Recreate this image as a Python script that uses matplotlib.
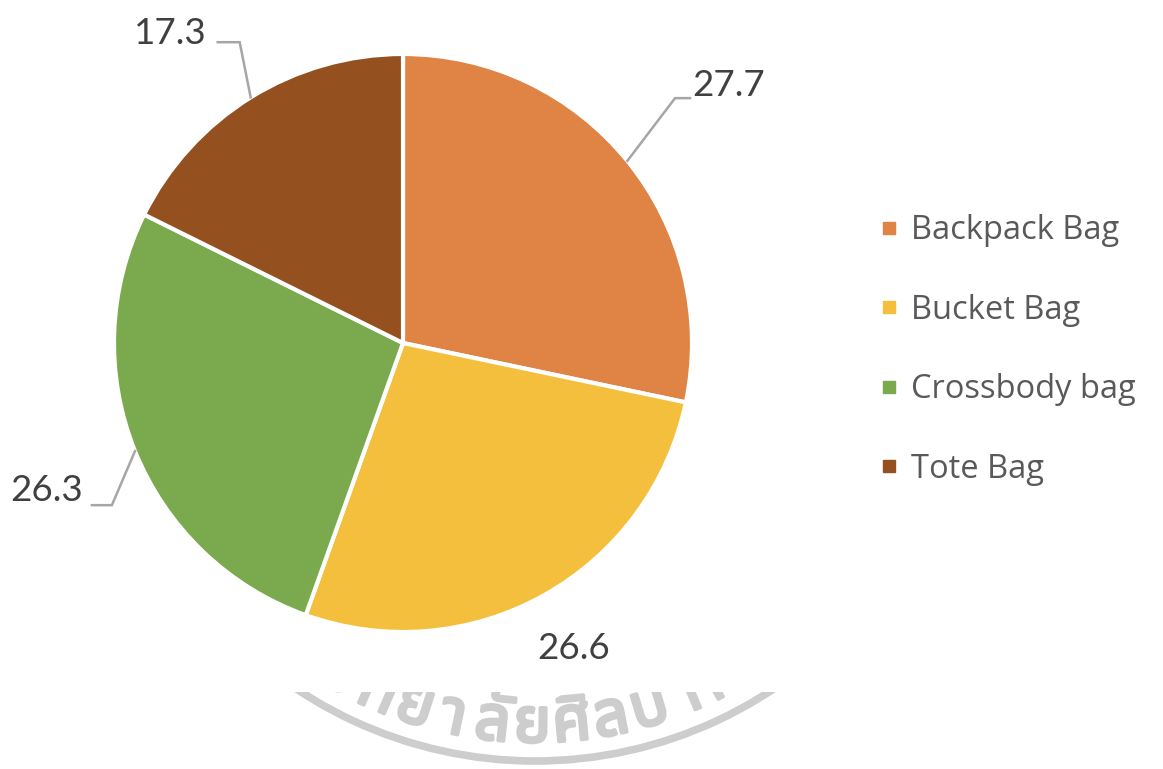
import numpy as np
import matplotlib
matplotlib.use("Agg")
import matplotlib.pyplot as plt
import matplotlib.patheffects as pe
from matplotlib.lines import Line2D
from matplotlib.patches import Arc, Rectangle

categories = ["Backpack Bag", "Bucket Bag", "Crossbody bag", "Tote Bag"]
values = [27.7, 26.6, 26.3, 17.3]
colors = ["#DF8444", "#F3BF3D", "#7BAA4E", "#94501F"]
value_labels = ["27.7", "26.6", "26.3", "17.3"]

# watermark seal text, split into glyph clusters
seal_clusters = ["ม", "ห", "า", "วิ", "ท", "ย", "า", "ลั", "ย", "ศิ", "ล", "ป", "า", "ก", "ร"]

W, H = 1163, 769
R_PX = 289.0
CX, CY = 403.0, 343.0


def px(x, y):
    """pixel position -> data coordinates (pie radius = 1)"""
    return (x - CX) / R_PX, (CY - y) / R_PX


plt.rcParams["font.family"] = ["Lato", "DejaVu Sans"]
fig = plt.figure(figsize=(W / 100, H / 100), dpi=100)
ax = fig.add_axes([0, 0, 1, 1])

wedges, _ = ax.pie(values, colors=colors, startangle=90, counterclock=False,
                   radius=1.0, wedgeprops=dict(edgecolor="white", linewidth=3))
ax.set_xlim(-CX / R_PX, (W - CX) / R_PX)
ax.set_ylim(-(H - CY) / R_PX, CY / R_PX)
ax.set_aspect("equal")
ax.axis("off")

text_color = "#404040"
line_color = "#A6A6A6"
fs = 26.5

mids = [np.deg2rad((w.theta1 + w.theta2) / 2) for w in wedges]

# leader-line layout: elbow offset, horizontal run, text gap and lift
layout = {
    0: dict(elbow=(0.165, 0.217), run=0.052, ha="left", gap=0.008, lift=0.042),
    2: dict(elbow=(-0.080, -0.187), run=-0.069, ha="right", gap=-0.032, lift=0.050),
    3: dict(elbow=(-0.038, 0.191), run=-0.076, ha="right", gap=-0.040, lift=0.030),
}
for i, m in enumerate(mids):
    ex, ey = np.cos(m), np.sin(m)
    if i in layout:
        L = layout[i]
        bx, by = ex + L["elbow"][0], ey + L["elbow"][1]
        tx = bx + L["run"]
        ax.plot([ex, bx, tx], [ey, by, by], color=line_color, lw=1.8,
                solid_joinstyle="miter")
        ax.text(tx + L["gap"], by + L["lift"], value_labels[i], ha=L["ha"],
                va="center", fontsize=fs, color=text_color)
    else:
        ax.text(1.21 * ex, 1.21 * ey, value_labels[i], ha="center",
                va="center", fontsize=fs, color=text_color)

handles = [Line2D([], [], marker="s", linestyle="none", markersize=8,
                  markerfacecolor=c, markeredgecolor=c) for c in colors]
fig.legend(handles, categories, loc="center left",
           bbox_to_anchor=(852 / W, 1 - 350 / H), frameon=False,
           prop=dict(family="Open Sans", size=23.5), labelcolor="#595959",
           handlelength=0.45, handletextpad=0.45, labelspacing=1.42)

# seal watermark along the bottom, visible only below the chart area
clip = Rectangle(px(0, H), W / R_PX, (H - 692) / R_PX, transform=ax.transData,
                 facecolor="none", edgecolor="none")
ax.add_patch(clip)
seal_c = px(535, 330)
seal_r = 431 / R_PX
seal_col = "#CDCDCD"
arc = Arc(seal_c, 2 * seal_r, 2 * seal_r, theta1=220, theta2=320,
          color=seal_col, lw=5.5, zorder=0)
ax.add_patch(arc)
arc.set_clip_path(clip)

base_r = 412 / R_PX
step = 5.75
base_idx = 8
for k, ch in enumerate(seal_clusters):
    ang = -90.4 + (k - base_idx) * step
    a = np.deg2rad(ang)
    t = ax.text(seal_c[0] + base_r * np.cos(a), seal_c[1] + base_r * np.sin(a), ch,
                ha="center", va="baseline", rotation=ang + 90,
                rotation_mode="anchor", fontsize=45, fontweight="bold",
                color=seal_col, zorder=0, clip_on=True,
                family=["Noto Sans Thai", "Noto Sans", "DejaVu Sans"],
                path_effects=[pe.withStroke(linewidth=2.5, foreground=seal_col)])
    t.set_clip_path(clip)

fig.savefig("out.png", dpi=100)
